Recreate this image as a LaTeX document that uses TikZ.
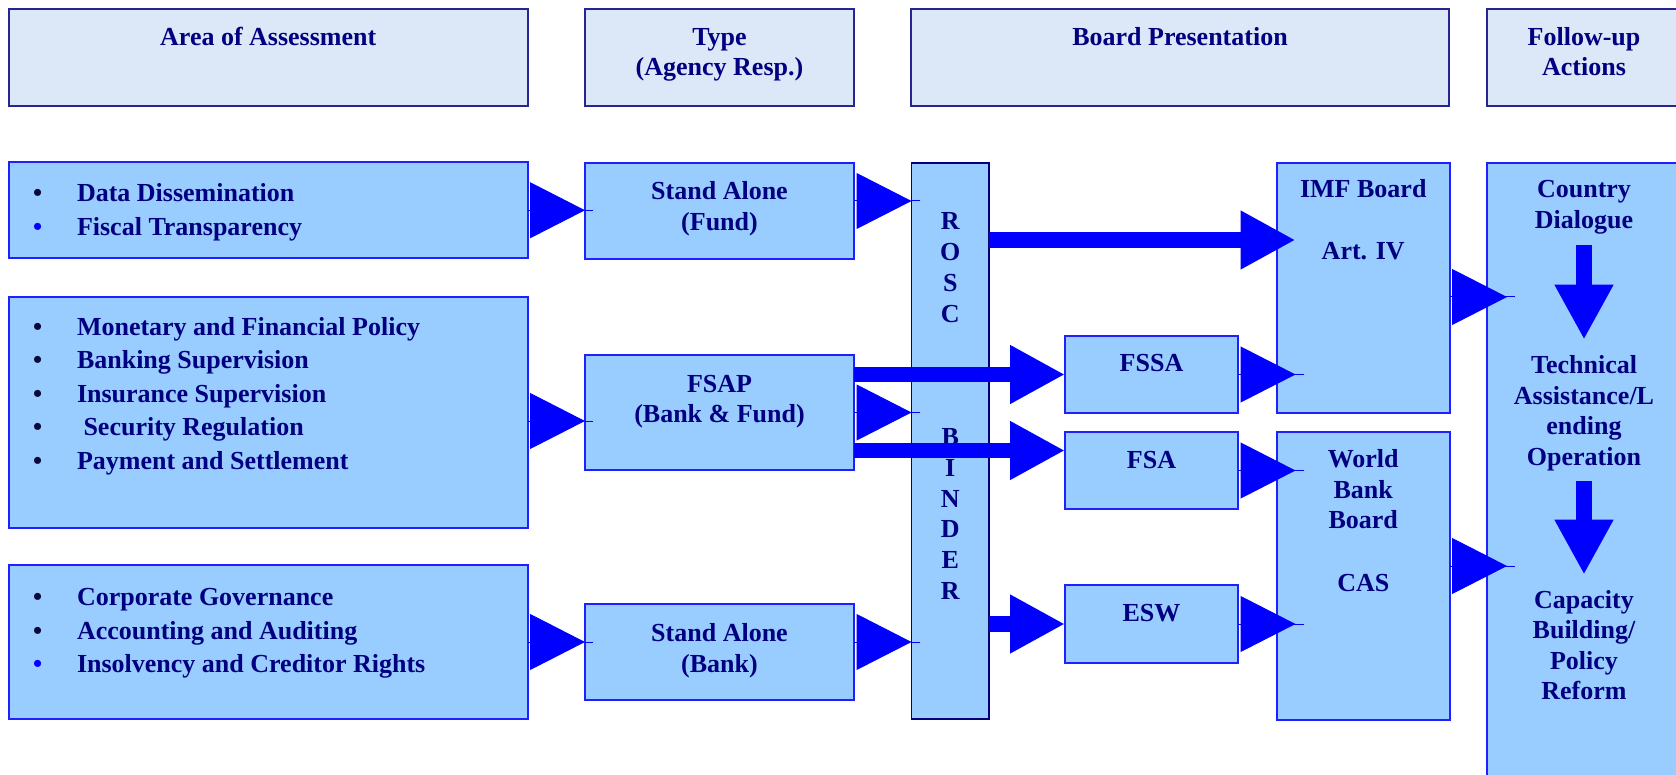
\documentclass[tikz,border=0pt]{standalone}
\usepackage{fontspec}
\setmainfont{Liberation Serif}
\usetikzlibrary{arrows.meta}

\definecolor{boxfill}{HTML}{99CCFF}
\definecolor{boxline}{HTML}{2020FF}
\definecolor{headfill}{HTML}{DCE8F8}
\definecolor{navy}{HTML}{000080}
\definecolor{arrowblue}{HTML}{0000FF}
\definecolor{dotdark}{HTML}{0A0A3A}

\newcommand{\bitem}[1]{\makebox[46pt][l]{\hspace{2pt}\textcolor{#1}{\textbullet}}}
\newcommand{\rows}[2]{\begin{tabular}[t]{@{}#1@{}}#2\end{tabular}}

\begin{document}
\begin{tikzpicture}[x=1pt, y=-1pt,
      every node/.style = {inner sep=0pt, outer sep=0pt},
      box/.style = {draw=boxline, line width=2pt, fill=boxfill, anchor=north west},
      head/.style = {draw=navy!85, line width=2pt, fill=headfill, anchor=north west},
      txt/.style = {text=navy, anchor=base, font=\fontsize{26}{31}\selectfont\bfseries},
      list/.style = {text=navy, anchor=base west, font=\fontsize{26}{33.5}\selectfont\bfseries},
      wedge/.style = {draw=arrowblue, fill=arrowblue, line width=1pt,
        -{Triangle[length=55pt,width=56pt]}},
      stub/.style = {draw=arrowblue, line width=1pt},
      fat/.style = {draw=arrowblue, line width=15.5pt,
        -{Triangle[length=55pt,width=55pt]}},
      deep/.style = {shorten >=-#1}]
  \useasboundingbox (0,0) rectangle (1676,775);

  % column headers
  \node[head, minimum width=519.5, minimum height=96.5] (hArea) at (8.5,9.5) {};
  \node[head, minimum width=269, minimum height=96.5] (hType) at (585,9.5) {};
  \node[head, minimum width=538, minimum height=96.5] (hBoard) at (911,9.5) {};
  \node[head, minimum width=194, minimum height=96.5] (hFollow) at (1487,9.5) {};
  \node[txt, font=\fontsize{26}{30}\selectfont\bfseries] (tArea) at ([yshift=-36pt]hArea.north) {Area of Assessment};
  \node[txt, font=\fontsize{26}{30}\selectfont\bfseries] (tType) at ([yshift=-36pt]hType.north) {\rows{c}{Type\\(Agency Resp.)}};
  \node[txt, font=\fontsize{26}{30}\selectfont\bfseries] (tBoard) at ([yshift=-36pt]hBoard.north) {Board Presentation};
  \node[txt, font=\fontsize{26}{30}\selectfont\bfseries] (tFollow) at ([yshift=-36pt]hFollow.north) {\rows{c}{Follow-up\\Actions}};

  % areas of assessment
  \node[box, minimum width=519.5, minimum height=95.5] (area1) at (8.5,162.5) {};
  \node[box, minimum width=519.5, minimum height=231] (area2) at (8.5,297) {};
  \node[box, minimum width=519.5, minimum height=154] (area3) at (8.5,565) {};
  \node[list] (lArea1) at ([shift={(22.5,39.5)}]area1.north west)
    {\rows{l}{\bitem{dotdark}Data Dissemination\\\bitem{arrowblue}Fiscal Transparency}};
  \node[list] (lArea2) at ([shift={(22.5,38.5)}]area2.north west)
    {\rows{l}{\bitem{dotdark}Monetary and Financial Policy\\\bitem{dotdark}Banking Supervision\\
      \bitem{dotdark}Insurance Supervision\\\bitem{dotdark}\ Security Regulation\\
      \bitem{dotdark}Payment and Settlement}};
  \node[list] (lArea3) at ([shift={(22.5,40.5)}]area3.north west)
    {\rows{l}{\bitem{dotdark}Corporate Governance\\\bitem{dotdark}Accounting and Auditing\\
      \bitem{arrowblue}Insolvency and Creditor Rights}};

  % type
  \node[box, minimum width=269, minimum height=96] (fund) at (585,163) {};
  \node[box, minimum width=269, minimum height=115] (fsap) at (585,355) {};
  \node[box, minimum width=269, minimum height=96] (bank) at (585,604) {};
  \node[txt] (tFund) at ([yshift=-37pt]fund.north) {\rows{c}{Stand Alone\\(Fund)}};
  \node[txt] (tFsap) at ([yshift=-37pt]fsap.north) {\rows{c}{FSAP\\(Bank \& Fund)}};
  \node[txt] (tBank) at ([yshift=-37pt]bank.north) {\rows{c}{Stand Alone\\(Bank)}};

  % board presentation
  \node[box, draw=navy, line width=1.5pt, minimum width=77.5, minimum height=556] (rosc) at (911.5,163) {};
  \node[txt, font=\fontsize{26}{30.8}\selectfont\bfseries] (tRosc) at ([yshift=-67pt]rosc.north)
    {\rows{c}{R\\O\\S\\C\\ \\ \\ \\B\\I\\N\\D\\E\\R}};
  \node[box, minimum width=173, minimum height=77] (fssa) at (1065,336) {};
  \node[box, minimum width=173, minimum height=77] (fsa) at (1065,432) {};
  \node[box, minimum width=173, minimum height=78] (esw) at (1065,585) {};
  \node[txt] (tFssa) at ([yshift=-36pt]fssa.north) {FSSA};
  \node[txt] (tFsa) at ([yshift=-36pt]fsa.north) {FSA};
  \node[txt] (tEsw) at ([yshift=-36pt]esw.north) {ESW};
  \node[box, minimum width=173.5, minimum height=250] (imf) at (1276.5,163) {};
  \node[box, minimum width=173.5, minimum height=288] (wb) at (1276.5,432) {};
  \node[txt] (tImf) at ([yshift=-35pt]imf.north) {\rows{c}{IMF Board\\ \\Art. IV}};
  \node[txt] (tWb) at ([yshift=-35pt]wb.north) {\rows{c}{World\\Bank\\Board\\ \\CAS}};

  % follow-up actions
  \node[box, minimum width=194, minimum height=640] (follow) at (1487,163) {};
  \node[txt, font=\fontsize{26}{30.5}\selectfont\bfseries] (cd) at ([yshift=-35pt]follow.north) {\rows{c}{Country\\Dialogue}};
  \node[txt, font=\fontsize{26}{30.5}\selectfont\bfseries] (ta) at ([yshift=-211pt]follow.north) {\rows{c}{Technical\\Assistance/L\\ending\\Operation}};
  \node[txt, font=\fontsize{26}{30.5}\selectfont\bfseries] (cb) at ([yshift=-445pt]follow.north) {\rows{c}{Capacity\\Building/\\Policy\\Reform}};

  % connectors
  \draw[wedge] (area1.east) -- (area1.east -| fund.west) coordinate (w1);
  \draw[stub] (w1) -- +(8,0);
  \coordinate (fsapin) at ([yshift=-8.5pt]fsap.west);
  \draw[wedge] (fsapin -| area2.east) -- (fsapin);
  \draw[stub] (fsapin) -- +(8,0);
  \draw[wedge] (area3.east) -- (area3.east -| bank.west) coordinate (w3);
  \draw[stub] (w3) -- +(8,0);

  \draw[wedge] ([yshift=10pt]fund.east) coordinate (f1) -- (f1 -| rosc.west) coordinate (f2);
  \draw[stub] (f2) -- +(8,0);
  \draw[wedge] (fsap.east) -- (fsap.east -| rosc.west) coordinate (f3);
  \draw[stub] (f3) -- +(8,0);
  \draw[wedge] ([yshift=10pt]bank.east) coordinate (f4) -- (f4 -| rosc.west) coordinate (f5);
  \draw[stub] (f5) -- +(8,0);

  \draw[fat] (fsap.east |- fssa.west) -- (fssa.west);
  \coordinate (fsain) at ([yshift=20pt]fsa.west);
  \draw[fat] (fsap.east |- fsain) -- (fsain);
  \draw[fat] (rosc.east |- esw.west) -- (esw.west);
  \coordinate (imfin) at ([yshift=48pt]imf.west);
  \draw[fat, deep=19pt] (rosc.east |- imfin) -- (imfin);

  \draw[wedge, deep=19pt] (fssa.east) -- (fssa.east -| imf.west) coordinate (b1);
  \draw[stub] (b1) -- +(27,0);
  \draw[wedge, deep=19pt] (fsa.east) -- (fsa.east -| wb.west) coordinate (b2);
  \draw[stub] (b2) -- +(27,0);
  \draw[wedge, deep=19pt] (esw.east) -- (esw.east -| wb.west) coordinate (b3);
  \draw[stub] (b3) -- +(27,0);

  \draw[wedge, deep=20pt] ([yshift=-9pt]imf.east) coordinate (g1) -- (g1 -| follow.west) coordinate (g2);
  \draw[stub] (g2) -- +(28,0);
  \draw[wedge, deep=20pt] ([yshift=10pt]wb.east) coordinate (g3) -- (g3 -| follow.west) coordinate (g4);
  \draw[stub] (g4) -- +(28,0);

  \draw[fat] ([yshift=-7pt]cd.south) -- ([yshift=13pt]ta.north);
  \draw[fat] ([yshift=-6pt]ta.south) -- ([yshift=12pt]cb.north);
\end{tikzpicture}
\end{document}
